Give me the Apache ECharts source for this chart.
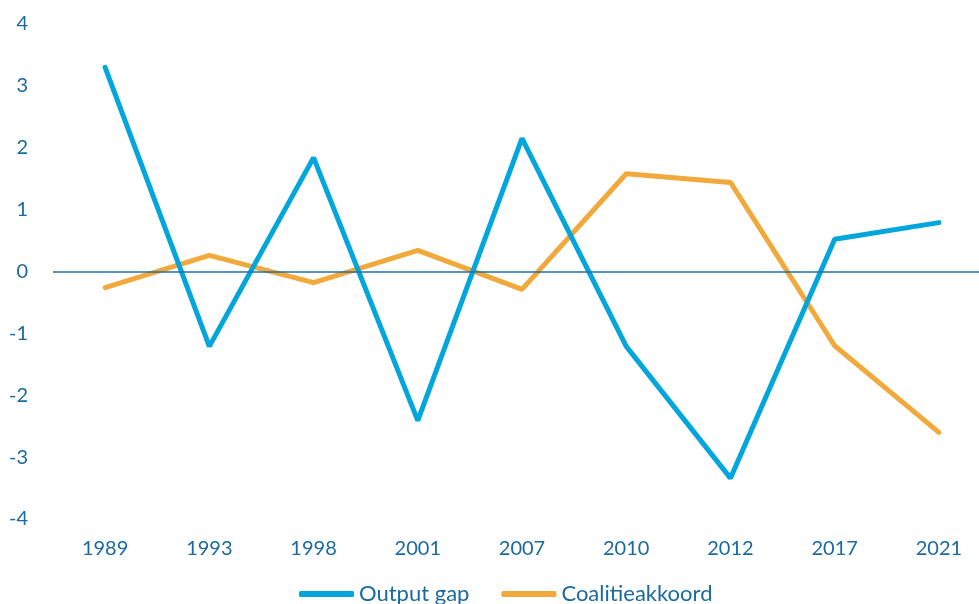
<!DOCTYPE html>
<html>
<head>
<meta charset="utf-8">
<script src="https://cdn.jsdelivr.net/npm/echarts@6/dist/echarts.min.js"></script>
<style>
  html, body { margin: 0; padding: 0; background: #fff; overflow: hidden; }
  #chart { width: 991px; height: 604px; }
</style>
</head>
<body>
<div id="chart"></div>
<script>
var years = ['1989', '1993', '1998', '2001', '2007', '2010', '2012', '2017', '2021'];
var outputGap = [3.30, -1.21, 1.84, -2.41, 2.15, -1.21, -3.34, 0.52, 0.79];
var coalitie = [-0.26, 0.26, -0.18, 0.34, -0.29, 1.58, 1.44, -1.20, -2.60];

var labelColor = '#1a6aa0';
var font = 'Lato, "Open Sans", sans-serif';

// plot area runs a little past the right edge of the window, as in the original
var chart = echarts.init(document.getElementById('chart'));
chart.setOption({
  animation: false,
  textStyle: { fontFamily: font },
  grid: { left: 53, right: 0, top: 24, bottom: 85, containLabel: false },
  legend: {
    bottom: -6,
    left: 294,
    itemWidth: 55,
    itemHeight: 6,
    itemGap: 32,
    icon: 'roundRect',
    textStyle: { fontSize: 22, color: labelColor, fontFamily: font },
    data: ['Output gap', 'Coalitieakkoord']
  },
  xAxis: {
    type: 'category',
    data: years,
    boundaryGap: true,
    axisLine: { show: false },
    axisTick: { show: false },
    axisLabel: { color: labelColor, fontSize: 20, margin: 20, fontFamily: font }
  },
  yAxis: {
    type: 'value',
    min: -4,
    max: 4,
    interval: 1,
    splitLine: { show: false },
    axisLine: { show: false },
    axisTick: { show: false },
    axisLabel: { color: labelColor, fontSize: 20, margin: 25, fontFamily: font }
  },
  series: [
    {
      name: 'Output gap',
      type: 'line',
      data: outputGap,
      symbol: 'none',
      color: '#00a6dc',
      lineStyle: { width: 5, color: '#00a6dc', cap: 'round' },
      z: 3,
      markLine: {
        silent: true,
        symbol: 'none',
        label: { show: false },
        lineStyle: { color: '#1f6fa6', width: 1.5, type: 'solid' },
        data: [{ yAxis: 0 }]
      }
    },
    {
      name: 'Coalitieakkoord',
      type: 'line',
      data: coalitie,
      symbol: 'none',
      color: '#f2a93b',
      lineStyle: { width: 5, color: '#f2a93b', cap: 'round' },
      z: 2
    }
  ]
});
</script>
</body>
</html>
